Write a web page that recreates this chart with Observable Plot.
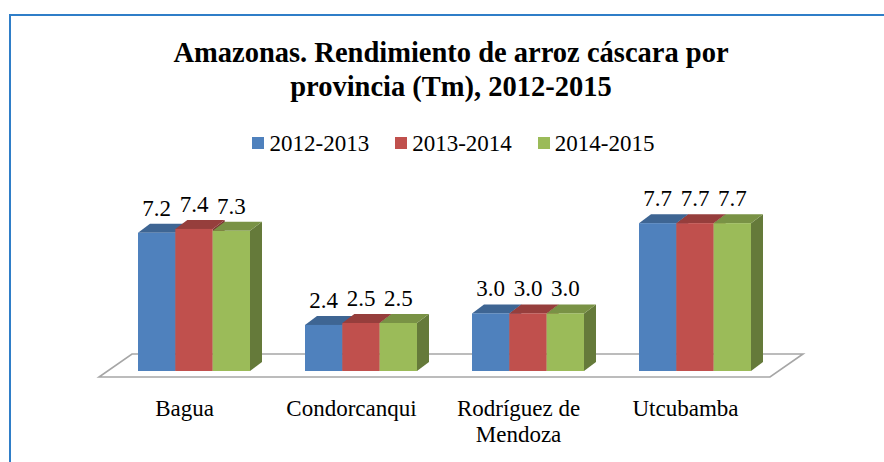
<!DOCTYPE html>
<html>
<head>
<meta charset="utf-8">
<script src="https://cdn.jsdelivr.net/npm/d3@7"></script>
<script src="https://cdn.jsdelivr.net/npm/@observablehq/plot@0.6"></script>
</head>
<body style="margin:0;background:#fff;">
<div style="position:relative;width:884px;height:462px;overflow:hidden;font-family:'Liberation Serif',serif;">
<div style="position:absolute;left:9px;top:14px;width:900px;height:480px;border:2px solid #2f7ec8;box-sizing:border-box;"></div>
<div id="chart" style="position:absolute;left:0;top:0;"></div>
<div style="position:absolute;left:0;top:36px;width:902px;text-align:center;font-family:'Liberation Serif',serif;font-weight:bold;font-size:28.5px;line-height:34px;color:#000;">Amazonas. Rendimiento de arroz cáscara por<br>provincia (Tm), 2012-2015</div>
<div id="legend" style="position:absolute;left:0;top:132px;width:907px;text-align:center;font-family:'Liberation Serif',serif;font-size:23px;line-height:23px;color:#000;white-space:nowrap;"></div>
</div>
<script>
// ---- data ----
const provinces = ["Bagua", "Condorcanqui", "Rodríguez de Mendoza", "Utcubamba"];
const provinceLabels = ["Bagua", "Condorcanqui", "Rodríguez de\nMendoza", "Utcubamba"];
const series = ["2012-2013", "2013-2014", "2014-2015"];
const values2012_2013 = [7.2, 2.4, 3.0, 7.7];
const values2013_2014 = [7.4, 2.5, 3.0, 7.7];
const values2014_2015 = [7.3, 2.5, 3.0, 7.7];
const seriesColors = ["#4F81BD", "#C0504D", "#9BBB59"];

const seriesValues = [values2012_2013, values2013_2014, values2014_2015];
const rows = [];
series.forEach((s, si) => provinces.forEach((p, pi) => rows.push({province: p, series: s, si, value: seriesValues[si][pi]})));

// ---- legend (HTML) ----
const legend = document.getElementById("legend");
series.forEach((s, i) => {
  const item = document.createElement("span");
  item.style.display = "inline-block";
  item.style.margin = "0 13px";
  const sw = document.createElement("span");
  sw.style.cssText = "display:inline-block;width:12px;height:12px;margin-right:5px;vertical-align:2px;background:" + seriesColors[i];
  item.appendChild(sw);
  item.appendChild(document.createTextNode(s));
  legend.appendChild(item);
});

// ---- 3D styling helpers ----
const DEPTH_X = 12, DEPTH_Y = 9;
const SERIF = "Liberation Serif";
function shade(c, k) { const r = d3.rgb(c); return d3.rgb(r.r * k, r.g * k, r.b * k).formatHex(); }
const poly = pts => "M" + pts.map(p => p.join(",")).join("L") + "Z";

function floorRender(index, scales) {
  const {x, y} = scales;
  const [x0, x1] = x.range();
  const y0 = y(0);
  const pts = [[x0 - 10, y0 + 6], [x1 - 10, y0 + 6], [x1 + 23, y0 - 17], [x0 + 23, y0 - 17]];
  return d3.create("svg:path")
    .attr("d", poly(pts))
    .attr("fill", "#fff")
    .attr("stroke", "#a6a6a6")
    .attr("stroke-width", 1.6)
    .node();
}

function barsRender(index, scales, values) {
  const {x} = scales;
  const w = x.bandwidth() / series.length;
  const g = d3.create("svg:g");
  const geom = Array.from(index, i => {
    const x0 = values.x[i] + rows[i].si * w;
    return {x0, x1: x0 + w, yt: values.y2[i], yb: values.y1[i], c: values.fill[i]};
  });
  for (const b of geom) {
    g.append("path").attr("d", poly([[b.x1, b.yb], [b.x1 + DEPTH_X, b.yb - DEPTH_Y], [b.x1 + DEPTH_X, b.yt - DEPTH_Y], [b.x1, b.yt]]))
      .attr("fill", shade(b.c, 0.65));
  }
  for (const b of geom) {
    g.append("path").attr("d", poly([[b.x0, b.yt], [b.x1, b.yt], [b.x1 + DEPTH_X, b.yt - DEPTH_Y], [b.x0 + DEPTH_X, b.yt - DEPTH_Y]]))
      .attr("fill", shade(b.c, 0.78));
  }
  for (const b of geom) {
    g.append("rect").attr("x", b.x0).attr("y", b.yt).attr("width", b.x1 - b.x0).attr("height", b.yb - b.yt)
      .attr("fill", b.c);
  }
  return g.node();
}

function labelsRender(index, scales, values) {
  const {x} = scales;
  const w = x.bandwidth() / series.length;
  const g = d3.create("svg:g")
    .attr("text-anchor", "middle")
    .attr("fill", "#000")
    .attr("font-size", 23);
  for (const i of index) {
    g.append("text")
      .attr("x", values.x[i] + (rows[i].si + 0.5) * w)
      .attr("y", values.y[i] - 17)
      .text(rows[i].value.toFixed(1));
  }
  return g.node();
}

const chart = Plot.plot({
  width: 884,
  height: 462,
  marginLeft: 109,
  marginRight: 104,
  marginTop: 179,
  marginBottom: 91,
  style: {fontFamily: SERIF, background: "transparent"},
  x: {type: "band", domain: provinces, paddingInner: 0.332, paddingOuter: 0.166},
  y: {domain: [0, 10], axis: null},
  color: {domain: series, range: seriesColors},
  marks: [
    Plot.ruleY([0], {render: floorRender}),
    Plot.axisX({tickSize: 0, tickPadding: 26, dx: -10, fontSize: 23, lineHeight: 1.13, label: null, fill: "#000",
      tickFormat: d => provinceLabels[provinces.indexOf(d)]}),
    Plot.barY(rows, {x: "province", y1: 0, y2: "value", fill: "series", render: barsRender}),
    Plot.text(rows, {x: "province", y: "value", text: d => d.value.toFixed(1), render: labelsRender})
  ]
});
document.getElementById("chart").appendChild(chart);
</script>
</body>
</html>
